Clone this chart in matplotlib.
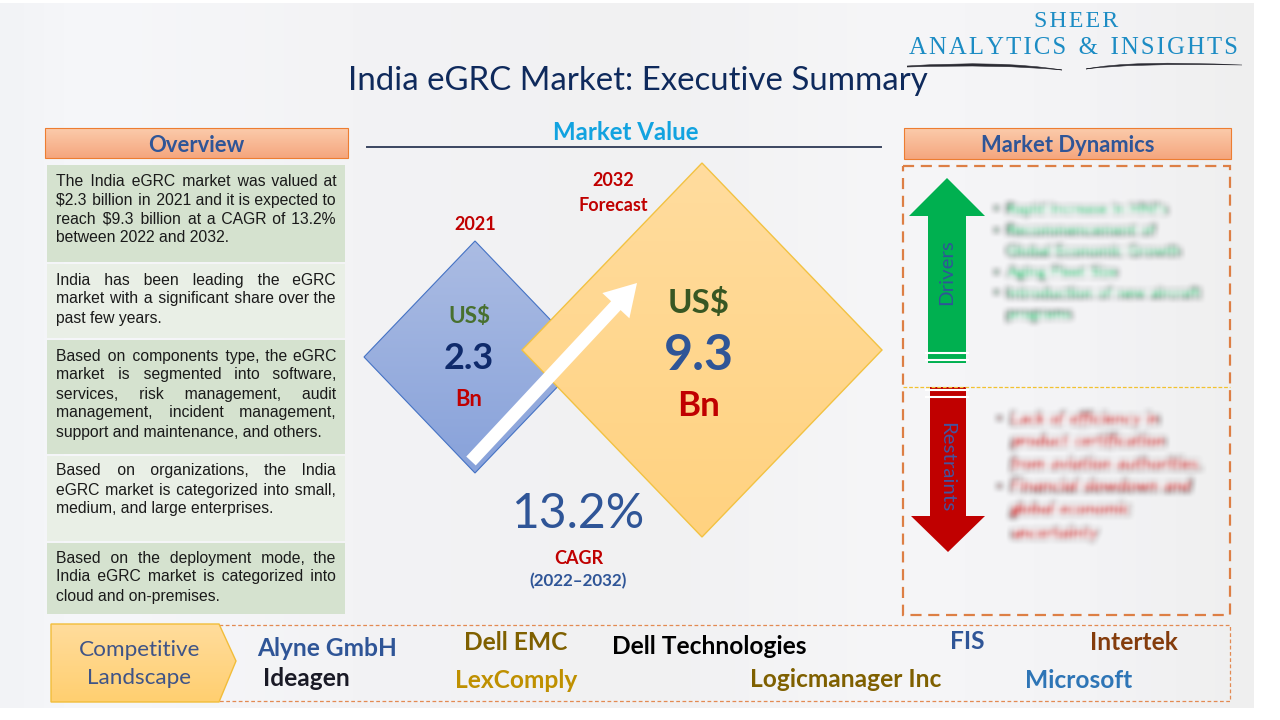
import numpy as np
import matplotlib
matplotlib.use('Agg')
import matplotlib.pyplot as plt
from matplotlib.colors import LinearSegmentedColormap
from matplotlib.patches import Polygon, Rectangle, PathPatch, FancyArrow
from matplotlib.path import Path

SANS = 'Lato'
ARIAL = 'Liberation Sans'
BLUE = '#2f5597'
RED = '#c00000'

overview = [
    (165, 262, '#d5e2cf', ['The India eGRC market was valued at',
                           '$2.3 billion in 2021 and it is expected to',
                           'reach $9.3 billion at a CAGR of 13.2%',
                           'between 2022 and 2032.'], 180),
    (264, 338, '#e9efe6', ['India has been leading the eGRC',
                           'market with a significant share over the',
                           'past few years.'], 279),
    (340, 454, '#d5e2cf', ['Based on components type, the eGRC',
                           'market is segmented into software,',
                           'services, risk management, audit',
                           'management, incident management,',
                           'support and maintenance, and others.'], 355),
    (456, 541, '#e9efe6', ['Based on organizations, the India',
                           'eGRC market is categorized into small,',
                           'medium, and large enterprises.'], 470),
    (543, 614, '#d5e2cf', ['Based on the deployment mode, the',
                           'India eGRC market is categorized into',
                           'cloud and on-premises.'], 557),
]

companies = [
    ('Alyne GmbH', 327, 647, BLUE),
    ('Ideagen', 306, 677, '#1a1a26'),
    ('Dell EMC', 516, 641, '#7f6000'),
    ('LexComply', 516, 679, '#bf9000'),
    ('Dell Technologies', 709, 645, '#000000'),
    ('Logicmanager Inc', 846, 678, '#7f6000'),
    ('FIS', 967, 640, BLUE),
    ('Intertek', 1134, 641, '#843c0c'),
    ('Microsoft', 1079, 679, '#2e75b6'),
]

drivers = [('•', 'Rapid increase in HNI\'s'), ('•', 'Recommencement of'), ('', 'Global Economic Growth'),
           ('•', 'Aging Fleet Size'), ('•', 'Introduction of new aircraft'), ('', 'programs')]
driver_y = [209, 230, 251, 272, 293, 314]
restraints = [('•', 'Lack of efficiency in'), ('', 'product certification'), ('', 'from aviation authorities.'),
              ('•', 'Financial slowdown and'), ('', 'global economic'), ('', 'uncertainty')]
restraint_y = [419, 441, 464, 486, 509, 532]

fig = plt.figure(figsize=(12.8, 7.2), dpi=100)
ax = fig.add_axes([0, 0, 1, 1])
ax.axis('off')


def pt(px):
    return px * 0.72


def blur(img, dpi, r=3):
    # box blur twice, close enough to the smudged text
    pad = r * 4
    out = np.pad(img, ((pad, pad), (pad, pad), (0, 0)))
    k = np.ones(2 * r + 1) / (2 * r + 1)
    for _ in range(2):
        for axis in (0, 1):
            out = np.apply_along_axis(lambda v: np.convolve(v, k, mode='same'), axis, out)
    return out, -pad, -pad


def grad_fill(patch_xy, top, bottom, zorder, edge=None, lw=1):
    xs = [p[0] for p in patch_xy]
    ys = [p[1] for p in patch_xy]
    cmap = LinearSegmentedColormap.from_list('g', [top, bottom])
    im = ax.imshow(np.linspace(0, 1, 64).reshape(-1, 1), cmap=cmap, aspect='auto', zorder=zorder,
                   extent=[min(xs), max(xs), max(ys), min(ys)], interpolation='bilinear')
    poly = Polygon(patch_xy, closed=True, fc='none', ec=edge if edge else 'none', lw=lw, zorder=zorder + 0.1)
    ax.add_patch(poly)
    im.set_clip_path(poly)


def header(x0, x1, y0, y1, label):
    grad_fill([(x0, y0), (x1, y0), (x1, y1), (x0, y1)], '#fbcbab', '#f5a67e', 3, edge='#ed7d31', lw=0.8)
    ax.text((x0 + x1) / 2, (y0 + y1) / 2 + 2, label, family=SANS, weight='bold', fontsize=pt(22),
            color=BLUE, ha='center', va='center', zorder=5)


def diamond(cx, cy, hw, hh):
    return [(cx - hw, cy), (cx, cy - hh), (cx + hw, cy), (cx, cy + hh)]


def label(x, y, s, px, color, weight='normal', family=SANS, **kw):
    return ax.text(x, y + 1.5, s, family=family, fontsize=pt(px), color=color, weight=weight,
                   ha='center', va='center', zorder=8, **kw)


# background
stops_x = [0, 85, 350, 650, 900, 1100, 1254]
stops_c = ['#f2f3f6', '#f6f7fa', '#f3f3f5', '#f1f1f2', '#f6f6f8', '#f3f3f5', '#efefef']
bg_cmap = LinearSegmentedColormap.from_list('bg', list(zip(np.array(stops_x) / 1254, stops_c)))
ax.imshow(np.linspace(0, 1, 256).reshape(1, -1), cmap=bg_cmap, aspect='auto', extent=[0, 1254, 708, 3], zorder=0)

# logo
label(1076, 20, '\u200a'.join('SHEER'), 24, '#1c8cc4', family='Liberation Serif')
label(1073, 46, '\u200a'.join('ANALYTICS') + '  &  ' + '\u200a'.join('INSIGHTS'), 24.7, '#1c8cc4',
      family='Liberation Serif')
for verts in ([(907, 66), (1000, 60), (1062, 70), (1000, 64), (907, 67)],
              [(1086, 69), (1130, 60), (1242, 65), (1130, 63), (1086, 69)]):
    codes = [Path.MOVETO, Path.CURVE3, Path.CURVE3, Path.CURVE3, Path.CURVE3]
    ax.add_patch(PathPatch(Path(verts, codes), fc='#2b2b33', ec='#2b2b33', lw=0.4, zorder=4))

# title
label(638, 79, 'India eGRC Market: Executive Summary', 33, '#0f2a5c')

# overview column
header(45, 348, 128, 158, 'Overview')
ax.set_xlim(0, 1280)
ax.set_ylim(720, 0)
renderer = fig.canvas.get_renderer()


def text_width(s):
    t = ax.text(0, 0, s, family=ARIAL, fontsize=pt(15.8))
    w = t.get_window_extent(renderer).width
    t.remove()
    return w


# justify a line by padding its spaces with hair spaces
hair = text_width('a' + '\u200a' * 10 + 'a') - text_width('aa')
hair /= 10
for y0, y1, col, lines, first_y in overview:
    ax.add_patch(Rectangle((47, y0), 298, y1 - y0, fc=col, ec='none', zorder=2))
    for i, line in enumerate(lines):
        s = line
        if i < len(lines) - 1:
            words = line.split(' ')
            gaps = len(words) - 1
            n = int(round((280 - text_width(line)) / hair))
            s = words[0]
            for j, w in enumerate(words[1:]):
                extra = n // gaps + (1 if j < n % gaps else 0)
                s += ' ' + '\u200a' * extra + w
        ax.text(56, first_y + 1 + 19 * i, s, family=ARIAL, fontsize=pt(15.8), color='#1a1a1a',
                va='center', ha='left', zorder=5)

# market value
label(626, 131, 'Market Value', 24, '#12a3e0', weight='bold')
ax.plot([367, 881], [147, 147], color='#3b4660', lw=1.4, zorder=3)

grad_fill(diamond(475, 357, 111, 116), '#abbce3', '#88a2da', 3, edge='#4472c4', lw=0.8)
grad_fill(diamond(702, 350, 180, 187), '#ffdc9e', '#ffd280', 4, edge='#f2c242', lw=1)
ax.add_patch(FancyArrow(471, 461, 166, -178, width=13, head_width=37, head_length=31,
                        length_includes_head=True, fc='white', ec='white', lw=0, zorder=6))

label(475, 223, '2021', 18, RED, weight='bold')
label(613, 179, '2032', 18, RED, weight='bold')
label(613, 204, 'Forecast', 18, RED, weight='bold')
label(469, 315, 'US$', 22.5, '#48702f', weight='bold')
label(469, 357, '2.3', 36, '#0f2a6b', weight='bold')
label(469, 398, 'Bn', 22, RED, weight='bold')
label(699, 302, 'US$', 33, '#385723', weight='bold')
label(699, 354, '9.3', 50, BLUE, weight='bold')
label(699, 405, 'Bn', 35, RED, weight='bold')
label(578, 513, '13.2%', 48, BLUE)
label(579, 557, 'CAGR', 18, RED, weight='bold')
label(578, 580, '(2022–2032)', 17, BLUE, weight='bold')

# market dynamics
header(904, 1231, 128, 159, 'Market Dynamics')
ax.add_patch(Rectangle((903, 166), 327, 449, fc='none', ec='#dd7f45', lw=1.6, ls=(0, (5, 3)), zorder=3))
ax.plot([903, 1230], [387, 387], color='#f2c230', lw=0.9, ls=(0, (3, 1.5)), zorder=7)

ax.add_patch(Polygon([(947, 178), (985, 216), (966, 216), (966, 363), (928, 363), (928, 216), (909, 216)],
                     closed=True, fc='#00b050', ec='none', zorder=5))
ax.add_patch(Polygon([(930, 387), (966, 387), (966, 516), (985, 516), (948, 552), (911, 516), (930, 516)],
                     closed=True, fc=RED, ec='none', zorder=5))
for y in (352.5, 359.5, 389.5, 396.5):
    ax.plot([926, 968], [y, y], color='white', lw=1.5, zorder=6)
ax.text(947, 272, 'Drivers', family=SANS, fontsize=pt(20.5), color=BLUE, rotation=90,
        ha='center', va='center', zorder=8)
ax.text(947, 467, 'Restraints', family=SANS, fontsize=pt(20.5), color='#44549f', rotation=270,
        ha='center', va='center', zorder=8)

for (b, s), y in zip(drivers, driver_y):
    if b:
        ax.text(996, y, b, family=SANS, fontsize=pt(12), color='#00b050', ha='center', va='center',
                zorder=5, agg_filter=blur)
    ax.text(1006, y + 1, s, family=SANS, weight='bold', fontsize=pt(15.8), color='#00b050', va='center', zorder=5,
            agg_filter=blur)
for (b, s), y in zip(restraints, restraint_y):
    if b:
        ax.text(999, y, b, family=SANS, fontsize=pt(12), color=RED, ha='center', va='center',
                zorder=5, agg_filter=blur)
    ax.text(1010, y + 1, s, family=SANS, fontsize=pt(18), weight='bold', style='italic', color=RED, va='center',
            zorder=5, agg_filter=blur)

# competitive landscape
ax.add_patch(Rectangle((219, 625), 1011, 76, fc='none', ec='#e38a52', lw=0.9, ls=(0, (3, 2)), zorder=3))
grad_fill([(51, 624), (219, 624), (236, 661), (219, 702), (51, 702)], '#ffdc9c', '#ffcf70', 4, edge='#f2bd3a', lw=1)
label(140, 648, 'Competitive', 22.5, '#3f5487')
label(139, 677, 'Landscape', 22.5, '#3f5487')
for name, x, y, col in companies:
    label(x, y, name, 24.5, col, weight='bold')

ax.set_xlim(0, 1280)
ax.set_ylim(720, 0)
fig.savefig('out.png', dpi=100, facecolor='white')
